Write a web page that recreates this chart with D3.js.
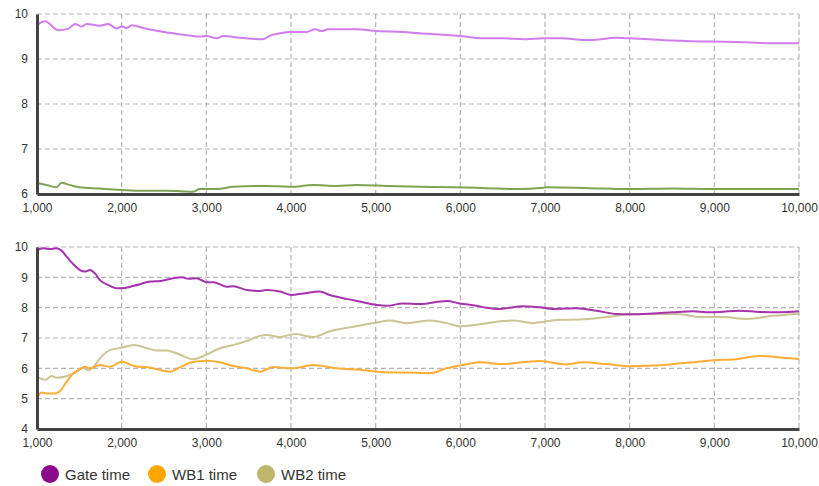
<!DOCTYPE html>
<html>
<head>
<meta charset="utf-8">
<script src="https://cdnjs.cloudflare.com/ajax/libs/d3/7.8.5/d3.min.js"></script>
<style>
body { margin: 0; background: #fff; }
svg { font-family: Arial, "Liberation Sans", sans-serif; }
.tick text { fill: #333; font-size: 12px; }
</style>
</head>
<body>
<div id="chart"></div>
<script>
// top panel (no legend)
var topPurple = [[1000,9.76],[1094,9.84],[1252,9.64],[1370,9.67],[1449,9.78],[1527,9.72],[1586,9.78],[1744,9.74],[1841,9.78],[1940,9.68],[2000,9.72],[2059,9.69],[2118,9.75],[2255,9.69],[2413,9.63],[2610,9.57],[2806,9.52],[2924,9.5],[3000,9.51],[3121,9.46],[3200,9.51],[3397,9.47],[3672,9.44],[3751,9.52],[3869,9.57],[3987,9.6],[4184,9.6],[4282,9.66],[4360,9.62],[4439,9.66],[4774,9.66],[5010,9.62],[5325,9.6],[5522,9.57],[5797,9.54],[5994,9.51],[6270,9.46],[6506,9.46],[6782,9.44],[6978,9.46],[7175,9.46],[7529,9.42],[7844,9.47],[8001,9.46],[8512,9.41],[8827,9.39],[8985,9.39],[9379,9.37],[9693,9.35],[10000,9.35]];
var topGreen = [[1000,6.25],[1110,6.2],[1230,6.15],[1290,6.25],[1350,6.22],[1500,6.15],[1744,6.12],[2000,6.09],[2220,6.07],[2530,6.07],[2845,6.05],[2924,6.11],[3121,6.11],[3318,6.16],[3711,6.18],[4000,6.16],[4262,6.2],[4537,6.18],[4774,6.2],[5128,6.18],[5522,6.16],[5915,6.15],[6309,6.13],[6663,6.11],[6978,6.14],[7018,6.15],[7529,6.13],[8001,6.11],[8512,6.12],[8985,6.11],[9497,6.11],[10000,6.11]];

// bottom panel
var gateTime = [[1000,9.9],[1075,9.96],[1153,9.93],[1230,9.96],[1290,9.88],[1350,9.68],[1430,9.43],[1507,9.24],[1566,9.19],[1625,9.24],[1684,9.13],[1744,8.91],[1862,8.72],[1940,8.64],[2000,8.64],[2145,8.72],[2342,8.86],[2460,8.88],[2610,8.97],[2712,9.0],[2790,8.95],[2884,8.97],[3000,8.84],[3082,8.84],[3239,8.69],[3318,8.71],[3476,8.58],[3633,8.55],[3711,8.58],[3869,8.53],[4006,8.42],[4144,8.47],[4340,8.53],[4458,8.42],[4655,8.29],[4813,8.2],[5010,8.09],[5128,8.06],[5325,8.14],[5522,8.12],[5837,8.22],[5994,8.14],[6191,8.06],[6309,8.0],[6467,7.96],[6742,8.05],[6939,8.01],[7096,7.96],[7372,7.98],[7608,7.9],[7844,7.79],[8001,7.78],[8277,7.81],[8512,7.85],[8749,7.88],[8906,7.85],[9063,7.86],[9300,7.9],[9536,7.86],[9772,7.85],[10000,7.88]];
var wb1Time = [[1000,5.01],[1055,5.2],[1114,5.17],[1212,5.17],[1271,5.25],[1350,5.56],[1430,5.84],[1507,5.97],[1566,6.05],[1625,6.0],[1744,6.11],[1862,6.05],[2000,6.22],[2145,6.08],[2342,6.02],[2571,5.89],[2690,6.04],[2830,6.2],[3000,6.25],[3160,6.2],[3318,6.08],[3476,6.0],[3633,5.89],[3790,6.04],[4006,6.0],[4262,6.11],[4537,6.0],[4813,5.95],[5128,5.87],[5404,5.86],[5640,5.84],[5837,6.0],[6033,6.11],[6230,6.2],[6506,6.14],[6742,6.2],[6939,6.24],[7254,6.13],[7450,6.2],[7726,6.14],[8001,6.07],[8277,6.09],[8512,6.14],[8749,6.2],[8985,6.27],[9221,6.29],[9536,6.41],[9772,6.36],[10000,6.31]];
var wb2Time = [[1000,5.72],[1055,5.65],[1094,5.62],[1173,5.75],[1230,5.69],[1350,5.74],[1468,5.88],[1547,6.02],[1605,5.93],[1664,6.04],[1744,6.33],[1862,6.6],[2000,6.68],[2145,6.77],[2302,6.66],[2420,6.59],[2530,6.59],[2690,6.45],[2845,6.3],[3000,6.45],[3160,6.66],[3318,6.77],[3476,6.9],[3633,7.07],[3711,7.1],[3869,7.03],[4045,7.13],[4262,7.03],[4458,7.22],[4734,7.37],[5010,7.51],[5168,7.58],[5364,7.49],[5640,7.58],[5837,7.49],[5994,7.39],[6191,7.44],[6506,7.56],[6624,7.58],[6860,7.49],[6939,7.52],[7175,7.6],[7411,7.61],[7726,7.69],[8001,7.78],[8316,7.79],[8592,7.78],[8827,7.69],[9103,7.69],[9379,7.63],[9693,7.73],[10000,7.8]];

var xTicks = [1000,2000,3000,4000,5000,6000,7000,8000,9000,10000];
var legendNames = ["Gate time", "WB1 time", "WB2 time"];
var legendColors = ["#8b0a8b", "#ffa500", "#bdb76b"];

var width = 819, height = 486;
var svg = d3.select("#chart").append("svg")
    .attr("width", width)
    .attr("height", height);

var x = d3.scaleLinear().domain([1000, 10000]).range([37, 799]);

function drawPanel(top, bottom, yDomain, yTicks, series) {
    var y = d3.scaleLinear().domain(yDomain).range([bottom, top]);
    var g = svg.append("g");

    // grid
    g.selectAll(".hgrid").data(yTicks).enter()
        .append("line")
        .attr("x1", 37).attr("x2", 799)
        .attr("y1", function(d) { return y(d); })
        .attr("y2", function(d) { return y(d); })
        .attr("stroke", "#b5b5b5").attr("stroke-width", 1.2)
        .attr("stroke-dasharray", "5,3");
    g.selectAll(".vgrid").data(xTicks).enter()
        .append("line")
        .attr("y1", top).attr("y2", bottom)
        .attr("x1", function(d) { return x(d); })
        .attr("x2", function(d) { return x(d); })
        .attr("stroke", "#b5b5b5").attr("stroke-width", 1.2)
        .attr("stroke-dasharray", "5,3");

    var line = d3.line()
        .x(function(d) { return x(d[0]); })
        .y(function(d) { return y(d[1]); })
        .curve(d3.curveMonotoneX);

    series.forEach(function(s) {
        g.append("path")
            .datum(s.data)
            .attr("fill", "none")
            .attr("stroke", s.color)
            .attr("stroke-width", 2)
            .attr("d", line);
    });

    // axes
    var yAxis = g.append("g")
        .attr("transform", "translate(37,0)")
        .call(d3.axisLeft(y).tickValues(yTicks).tickSize(0).tickPadding(9).tickFormat(d3.format("d")));
    yAxis.select(".domain").attr("stroke", "#444").attr("stroke-width", 3);

    var xAxis = g.append("g")
        .attr("transform", "translate(0," + bottom + ")")
        .call(d3.axisBottom(x).tickValues(xTicks).tickSize(0).tickPadding(9).tickFormat(d3.format(",")));
    xAxis.select(".domain").attr("stroke", "#444").attr("stroke-width", 3);
}

drawPanel(14, 194, [6, 10], [6, 7, 8, 9, 10], [
    { data: topPurple, color: "#d17ded" },
    { data: topGreen, color: "#7da353" }
]);

drawPanel(247, 429, [4, 10], [4, 5, 6, 7, 8, 9, 10], [
    { data: wb2Time, color: "#cbc594" },
    { data: wb1Time, color: "#ffad33" },
    { data: gateTime, color: "#a632ad" }
]);

// legend
var legendX = [50, 157, 266];
var legend = svg.append("g").selectAll("g")
    .data(legendNames).enter()
    .append("g")
    .attr("transform", function(d, i) { return "translate(" + legendX[i] + ",474)"; });
legend.append("circle")
    .attr("r", 9)
    .attr("fill", function(d, i) { return legendColors[i]; });
legend.append("text")
    .attr("x", 15).attr("y", 5.5)
    .attr("font-size", 15)
    .attr("fill", "#333")
    .text(function(d) { return d; });
</script>
</body>
</html>
